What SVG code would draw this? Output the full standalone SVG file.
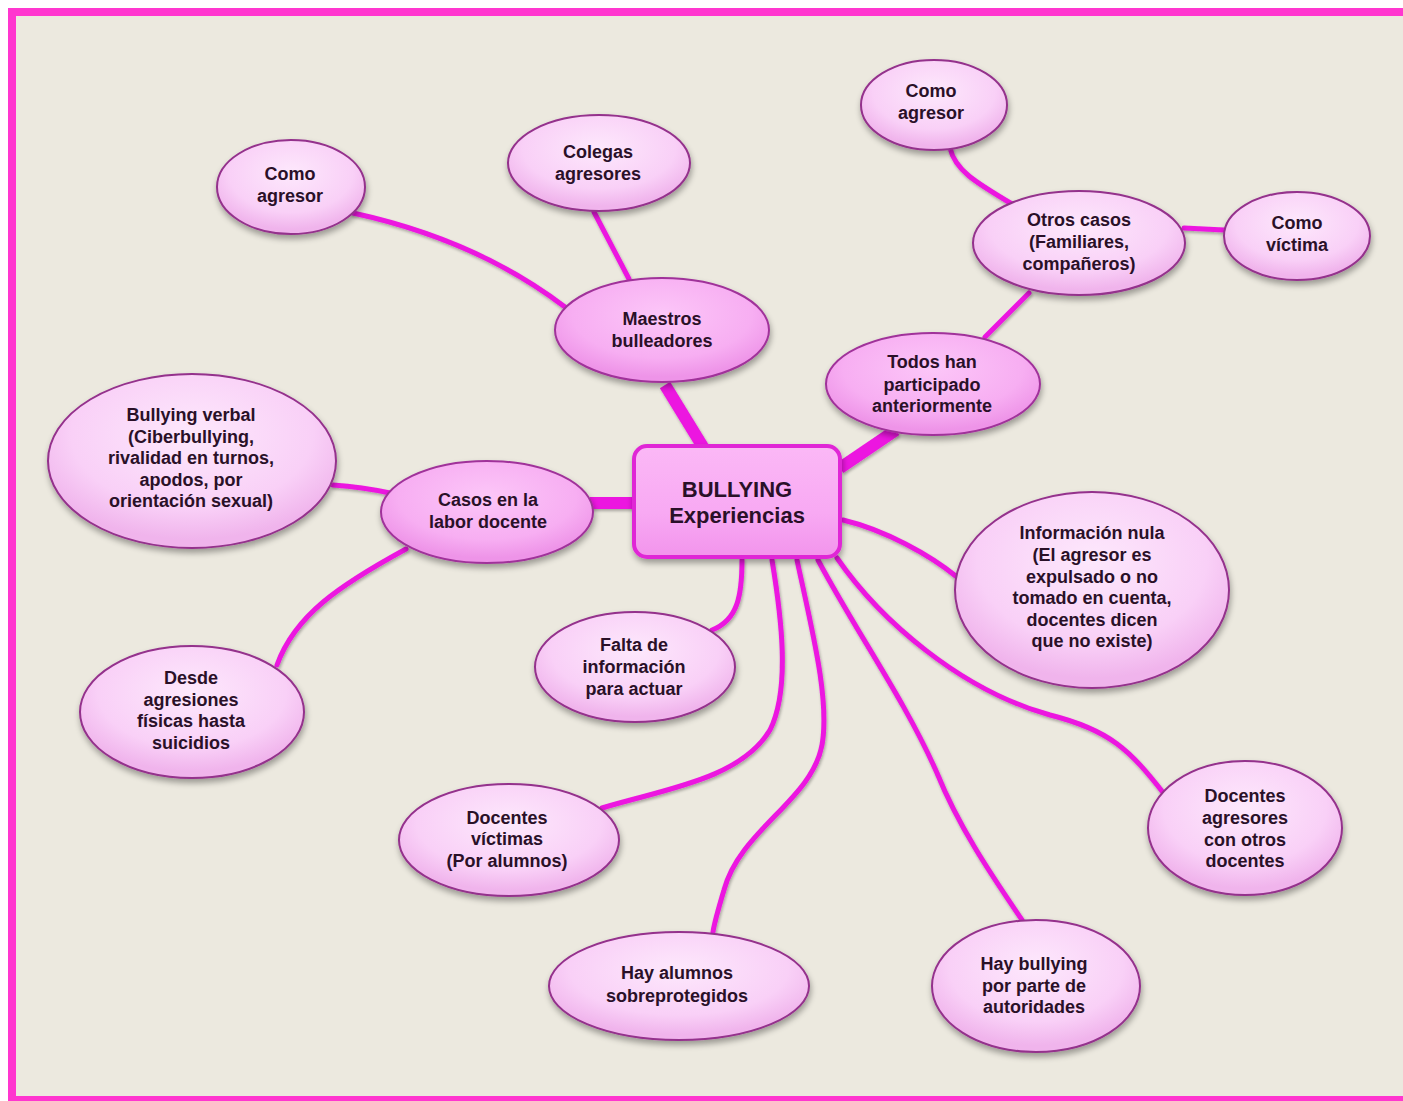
<svg xmlns="http://www.w3.org/2000/svg" width="1403" height="1101" viewBox="0 0 1403 1101">
<defs>
<radialGradient id="gLight" cx="50%" cy="35%" r="60%">
<stop offset="0" stop-color="#fde8fc"/>
<stop offset="0.7" stop-color="#f9d0f7"/>
<stop offset="1" stop-color="#f0b4ec"/>
</radialGradient>
<radialGradient id="gMain" cx="50%" cy="35%" r="60%">
<stop offset="0" stop-color="#fcc6f8"/>
<stop offset="0.7" stop-color="#f7aef2"/>
<stop offset="1" stop-color="#ee94e8"/>
</radialGradient>
<linearGradient id="gCenter" x1="0" y1="0" x2="0" y2="1">
<stop offset="0" stop-color="#fbb8f6"/>
<stop offset="0.6" stop-color="#f8a9f3"/>
<stop offset="1" stop-color="#f294ec"/>
</linearGradient>
<filter id="sh" x="-20%" y="-20%" width="140%" height="150%">
<feGaussianBlur in="SourceAlpha" stdDeviation="3"/>
<feOffset dx="1" dy="4" result="b"/>
<feComponentTransfer><feFuncA type="linear" slope="0.35"/></feComponentTransfer>
<feMerge><feMergeNode/><feMergeNode in="SourceGraphic"/></feMerge>
</filter>
<filter id="lsh" x="-10%" y="-10%" width="120%" height="120%">
<feGaussianBlur in="SourceAlpha" stdDeviation="1.5"/>
<feOffset dx="1" dy="2" result="b"/>
<feComponentTransfer><feFuncA type="linear" slope="0.3"/></feComponentTransfer>
<feMerge><feMergeNode/><feMergeNode in="SourceGraphic"/></feMerge>
</filter>
</defs>
<style>
.n{fill:url(#gLight);stroke:#94308c;stroke-width:2;filter:url(#sh)}
.m{fill:url(#gMain);stroke:#a0329a;stroke-width:2;filter:url(#sh)}
.t{font-family:"Liberation Sans",Arial,sans-serif;font-weight:bold;font-size:18px;fill:#2a1028;text-anchor:middle}
.c{fill:none;stroke:#ec16e0;stroke-width:5;stroke-linecap:round}
.k{fill:none;stroke:#ec16e0;stroke-width:12;stroke-linecap:butt}
</style>
<rect x="0" y="0" width="1403" height="1101" fill="#ffffff"/>
<rect x="12" y="12" width="1400" height="1088" fill="#ece9df" stroke="#ff36cf" stroke-width="8"/>

<g id="connectors" filter="url(#lsh)">
<path class="k" d="M665,385 L703,447"/>
<path class="k" d="M840,468 L896,430"/>
<path class="k" d="M590,503 L636,503"/>
<path class="c" d="M353,213 Q477,240 565,307"/>
<path class="c" d="M594,212 L629,279"/>
<path class="c" d="M985,337 L1029,293"/>
<path class="c" d="M950,148 C955,170 975,182 1012,204"/>
<path class="c" d="M1184,228 L1224,230"/>
<path class="c" d="M333,485 Q362,487 390,493"/>
<path class="c" d="M406,549 C340,585 295,615 277,665"/>
<path class="c" d="M742,560 C742,595 738,620 712,630"/>
<path class="c" d="M772,560 C782,620 790,690 770,730 C740,780 660,790 602,808"/>
<path class="c" d="M797,560 C812,630 830,700 822,745 C812,800 740,830 724,890 C718,910 714,925 713,932"/>
<path class="c" d="M818,560 C855,630 905,700 937,773 C960,830 995,880 1022,920"/>
<path class="c" d="M837,558 C880,620 960,690 1050,715 C1110,730 1130,750 1165,795"/>
<path class="c" d="M843,520 C885,530 930,555 957,577"/>
</g>

<g id="center">
<rect x="634" y="446" width="206" height="111" rx="13" fill="url(#gCenter)" stroke="#e026d6" stroke-width="4" filter="url(#sh)"/>
<text class="t" x="737" y="497" style="font-size:22px">BULLYING</text>
<text class="t" x="737" y="523" style="font-size:22px">Experiencias</text>
</g>

<g id="maestros">
<ellipse class="m" cx="662" cy="330" rx="107" ry="52"/>
<text class="t" x="662" y="325">Maestros</text>
<text class="t" x="662" y="347">bulleadores</text>
</g>
<g id="colegas">
<ellipse class="n" cx="599" cy="163" rx="91" ry="48"/>
<text class="t" x="598" y="158">Colegas</text>
<text class="t" x="598" y="180">agresores</text>
</g>
<g id="agresor1">
<ellipse class="n" cx="291" cy="187" rx="74" ry="47"/>
<text class="t" x="290" y="180">Como</text>
<text class="t" x="290" y="202">agresor</text>
</g>
<g id="todos">
<ellipse class="m" cx="933" cy="384" rx="107" ry="51"/>
<text class="t" x="932" y="368">Todos han</text>
<text class="t" x="932" y="391">participado</text>
<text class="t" x="932" y="412">anteriormente</text>
</g>
<g id="otros">
<ellipse class="n" cx="1079" cy="243" rx="106" ry="52"/>
<text class="t" x="1079" y="226">Otros casos</text>
<text class="t" x="1079" y="248">(Familiares,</text>
<text class="t" x="1079" y="270">compañeros)</text>
</g>
<g id="agresor2">
<ellipse class="n" cx="934" cy="105" rx="73" ry="45"/>
<text class="t" x="931" y="97">Como</text>
<text class="t" x="931" y="119">agresor</text>
</g>
<g id="victima">
<ellipse class="n" cx="1297" cy="236" rx="73" ry="44"/>
<text class="t" x="1297" y="229">Como</text>
<text class="t" x="1297" y="251">víctima</text>
</g>
<g id="casos">
<ellipse class="m" cx="487" cy="512" rx="106" ry="51"/>
<text class="t" x="488" y="506">Casos en la</text>
<text class="t" x="488" y="528">labor docente</text>
</g>
<g id="verbal">
<ellipse class="n" cx="192" cy="461" rx="144" ry="87"/>
<text class="t" x="191" y="421">Bullying verbal</text>
<text class="t" x="191" y="443">(Ciberbullying,</text>
<text class="t" x="191" y="464">rivalidad en turnos,</text>
<text class="t" x="191" y="486">apodos, por</text>
<text class="t" x="191" y="507">orientación sexual)</text>
</g>
<g id="desde">
<ellipse class="n" cx="192" cy="712" rx="112" ry="66"/>
<text class="t" x="191" y="684">Desde</text>
<text class="t" x="191" y="706">agresiones</text>
<text class="t" x="191" y="727">físicas hasta</text>
<text class="t" x="191" y="749">suicidios</text>
</g>
<g id="falta">
<ellipse class="n" cx="635" cy="667" rx="100" ry="55"/>
<text class="t" x="634" y="651">Falta de</text>
<text class="t" x="634" y="673">información</text>
<text class="t" x="634" y="695">para actuar</text>
</g>
<g id="informacion">
<ellipse class="n" cx="1092" cy="590" rx="137" ry="98"/>
<text class="t" x="1092" y="539">Información nula</text>
<text class="t" x="1092" y="561">(El agresor es</text>
<text class="t" x="1092" y="583">expulsado o no</text>
<text class="t" x="1092" y="604">tomado en cuenta,</text>
<text class="t" x="1092" y="626">docentes dicen</text>
<text class="t" x="1092" y="647">que no existe)</text>
</g>
<g id="docvictimas">
<ellipse class="n" cx="509" cy="840" rx="110" ry="56"/>
<text class="t" x="507" y="824">Docentes</text>
<text class="t" x="507" y="845">víctimas</text>
<text class="t" x="507" y="867">(Por alumnos)</text>
</g>
<g id="sobreprotegidos">
<ellipse class="n" cx="679" cy="986" rx="130" ry="54"/>
<text class="t" x="677" y="979">Hay alumnos</text>
<text class="t" x="677" y="1002">sobreprotegidos</text>
</g>
<g id="autoridades">
<ellipse class="n" cx="1036" cy="986" rx="104" ry="66"/>
<text class="t" x="1034" y="970">Hay bullying</text>
<text class="t" x="1034" y="992">por parte de</text>
<text class="t" x="1034" y="1013">autoridades</text>
</g>
<g id="docagresores">
<ellipse class="n" cx="1245" cy="828" rx="97" ry="67"/>
<text class="t" x="1245" y="802">Docentes</text>
<text class="t" x="1245" y="824">agresores</text>
<text class="t" x="1245" y="846">con otros</text>
<text class="t" x="1245" y="867">docentes</text>
</g>
</svg>
